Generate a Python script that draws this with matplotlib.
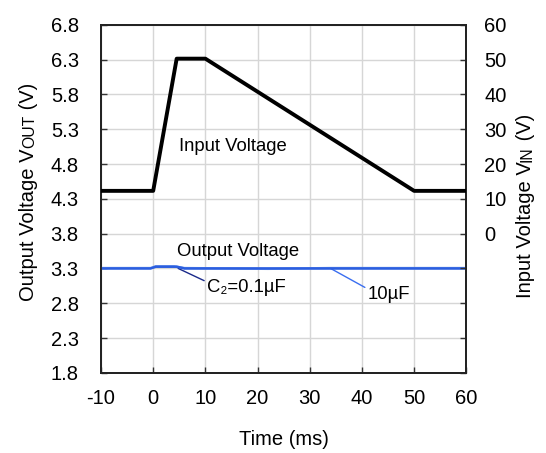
import matplotlib
matplotlib.use("Agg")
import matplotlib.pyplot as plt

plt.rcParams['font.family'] = ['Liberation Sans', 'DejaVu Sans']

# Data
t_in = [-10, 0, 4.5, 10, 50, 60]
v_in = [12.3, 12.3, 50.3, 50.3, 12.3, 12.3]

t_out_01 = [-10, -0.5, 0.5, 4.5, 6.0, 20, 35, 60]
v_out_01 = [3.30, 3.30, 3.325, 3.325, 3.30, 3.30, 3.30, 3.30]

t_out_10 = [-10, -0.5, 0.5, 4.0, 6.0, 22, 34, 60]
v_out_10 = [3.305, 3.305, 3.33, 3.33, 3.305, 3.295, 3.305, 3.305]

x_ticks = [-10, 0, 10, 20, 30, 40, 50, 60]
y_left_ticks = [1.8, 2.3, 2.8, 3.3, 3.8, 4.3, 4.8, 5.3, 5.8, 6.3, 6.8]
y_right_ticks = [-40, -30, -20, -10, 0, 10, 20, 30, 40, 50, 60]

W, H = 546, 453
fig = plt.figure(figsize=(W / 100, H / 100), dpi=100)
ax = fig.add_axes([0.185, 0.177, 0.669, 0.768])
ax2 = ax.twinx()

ax.set_xlim(-10, 60)
ax.set_ylim(1.8, 6.8)
ax2.set_ylim(-40, 60)

TF = 14.5
ax.set_xticks(x_ticks)
ax.set_xticklabels([str(v) for v in x_ticks], fontsize=TF)
ax.set_yticks(y_left_ticks)
ax.set_yticklabels([f"{v:.1f}" for v in y_left_ticks], fontsize=TF)
ax2.set_yticks(y_right_ticks)
ax2.set_yticklabels([str(v) if v >= 0 else "" for v in y_right_ticks], fontsize=TF)

ax.grid(True, color='#d6d6d6', linewidth=1.0)
ax.set_axisbelow(True)

for a in (ax, ax2):
    a.tick_params(direction='in', length=4, width=1.0, color='#333333')
    for s in a.spines.values():
        s.set_linewidth(1.3)
        s.set_color('#222222')
ax.tick_params(axis='y', pad=16)
ax.tick_params(axis='x', pad=12)
ax2.tick_params(axis='y', pad=13)

ax.plot(t_out_10, v_out_10, color='#7aa0ea', linewidth=1.8, zorder=3)
ax.plot(t_out_01, v_out_01, color='#2b5ee0', linewidth=1.8, zorder=4)
ax2.plot(t_in, v_in, color='black', linewidth=2.8, zorder=5)

ax.set_xlabel('Time (ms)', fontsize=TF)
ax.xaxis.set_label_coords(0.5, -0.193)
ax.xaxis.label.set_va('center')

# Rotated axis labels with small-caps subscripts built from pieces
renderer = fig.canvas.get_renderer()


def rot_label(pieces, xc_px, yc_px, base_size):
    lengths = []
    for txt, rel in pieces:
        t = fig.text(0, 0, txt, fontsize=base_size * rel, rotation=90,
                     rotation_mode='anchor', ha='left', va='baseline')
        lengths.append(t.get_window_extent(renderer).height)
        t.remove()
    total = sum(lengths)
    em = base_size * 100 / 72.0
    xb = xc_px + 0.25 * em
    y = (H - yc_px) - total / 2
    for (txt, rel), L in zip(pieces, lengths):
        fig.text(xb / W, y / H, txt, fontsize=base_size * rel, rotation=90,
                 rotation_mode='anchor', ha='left', va='baseline')
        y += L


LF = 14.5
rot_label([('Output Voltage V', 1.0), ('OUT', 0.78), (' (V)', 1.0)], 29, 192, LF)
rot_label([('Input Voltage V', 1.0), ('IN', 0.78), (' (V)', 1.0)], 526, 206, LF)

AF = 13.3
ax.text(5.0, 5.05, 'Input Voltage', fontsize=AF, va='center', ha='left')
ax.text(4.6, 3.55, 'Output Voltage', fontsize=AF, va='center', ha='left')
ax.annotate('C\u2082=0.1µF', xy=(4.8, 3.30), xytext=(10.3, 3.02), fontsize=AF,
            va='center', ha='left',
            arrowprops=dict(arrowstyle='-', color='#1a2a8a', lw=1.0,
                            shrinkA=0, shrinkB=0, relpos=(0, 0.85)))
ax.annotate('10µF', xy=(34, 3.30), xytext=(41.1, 2.92), fontsize=AF,
            va='center', ha='left',
            arrowprops=dict(arrowstyle='-', color='#3a6ef0', lw=1.0,
                            shrinkA=0, shrinkB=0, relpos=(0, 0.85)))

fig.savefig('out.png', dpi=100)
